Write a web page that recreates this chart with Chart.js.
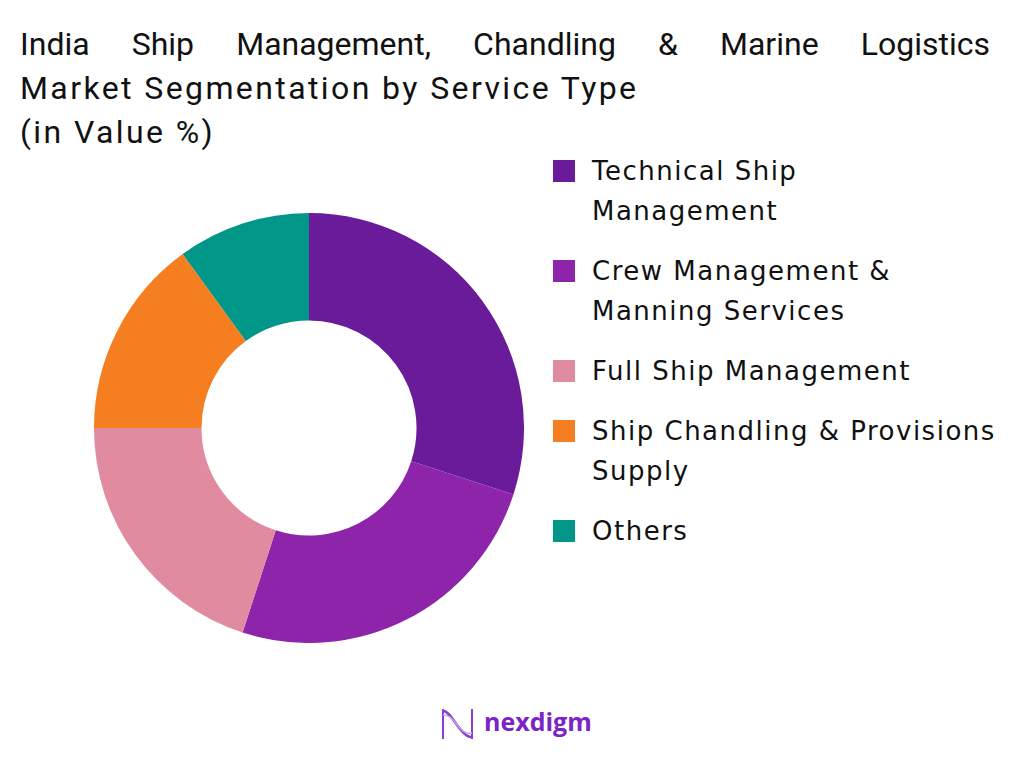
<!DOCTYPE html>
<html><head><meta charset="utf-8">
<script src="https://cdn.jsdelivr.net/npm/chart.js@4"></script>
<style>
html,body{margin:0;padding:0;background:#fff;width:1024px;height:768px;overflow:hidden;}
#title{position:absolute;left:20px;top:22px;width:970px;font-family:Roboto,sans-serif;font-size:32px;line-height:44px;color:#111;letter-spacing:2.4px;}
#title .j{text-align:justify;text-align-last:justify;letter-spacing:0;}
#chartBox{position:absolute;left:94px;top:213px;width:430px;height:430px;}
#legend{position:absolute;left:553px;top:151px;width:470px;font-family:"DejaVu Sans",sans-serif;font-size:26px;color:#111;letter-spacing:1.5px;}
.li{position:relative;padding-left:39px;line-height:40px;margin-bottom:20px;white-space:nowrap;}
.sw{position:absolute;left:0;top:9px;width:22px;height:22px;}
#logo{position:absolute;left:440px;top:704px;font-family:"Open Sans",sans-serif;font-weight:700;font-size:25px;color:#7b22c9;}
</style></head><body>
<div id="title"><div class="j">India Ship Management, Chandling &amp; Marine Logistics</div><div>Market Segmentation by Service Type</div><div>(in Value %)</div></div>
<div id="chartBox"><canvas id="c"></canvas></div>
<div id="legend"></div>
<div id="logo"><svg width="36" height="38" viewBox="0 0 36 38" style="vertical-align:middle;margin-right:8px"><path d="M3 6 C10 4 22 34 32 32" stroke="#8a3fd1" stroke-width="2.5" fill="none"/><path d="M3 4 L3 34" stroke="#8a3fd1" stroke-width="2" fill="none"/><path d="M32 4 L32 34" stroke="#8a3fd1" stroke-width="2" fill="none"/><path d="M3 10 C14 8 20 32 32 28" stroke="#c9a6ee" stroke-width="1.5" fill="none"/></svg>nexdigm</div>
<script>
const categories = [["Technical Ship","Management"],["Crew Management &","Manning Services"],["Full Ship Management"],["Ship Chandling & Provisions","Supply"],["Others"]];
const shareValues = [30, 25, 20, 15, 10];
const segmentColors = ["#6A1B9A","#8E24AA","#E08BA0","#F57F20","#009688"];

const chart = new Chart(document.getElementById('c'), {
  type: 'doughnut',
  data: {
    labels: categories.map(c => c.join(' ')),
    datasets: [{ data: shareValues, backgroundColor: segmentColors, borderWidth: 0 }]
  },
  options: {
    responsive: true, maintainAspectRatio: false, animation: false,
    cutout: '50%',
    layout: { padding: 0 },
    plugins: { legend: { display: false }, tooltip: { enabled: false } }
  }
});
const lg = document.getElementById('legend');
categories.forEach((c, i) => {
  const d = document.createElement('div'); d.className = 'li';
  const s = document.createElement('span'); s.className = 'sw'; s.style.background = segmentColors[i];
  d.appendChild(s);
  c.forEach((line, k) => { const t = document.createElement('div'); t.textContent = line; d.appendChild(t); });
  lg.appendChild(d);
});
</script>
</body></html>
